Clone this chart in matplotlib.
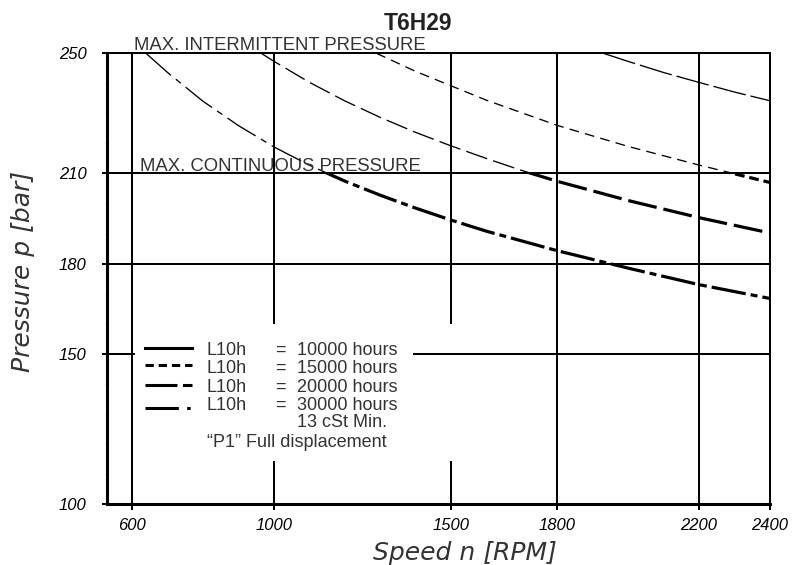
import numpy as np
import matplotlib
matplotlib.use('Agg')
from matplotlib import pyplot as plt
from matplotlib.patches import Rectangle

plt.rcParams['font.family'] = ['Liberation Sans', 'DejaVu Sans']
plt.rcParams['lines.scale_dashes'] = False

# axis setup
speed_ticks = [600, 1000, 1500, 1800, 2200, 2400]
pressure_ticks = [100, 150, 180, 210, 250]
p_continuous = 210
p_intermittent = 250

# life curves (speed rpm, pressure bar)
speed_10k = [1930, 2000, 2100, 2200, 2300, 2400]
p_10k = [250, 247.3, 243.6, 240.3, 237.1, 234.2]

speed_15k = [1290, 1400, 1500, 1600, 1800, 2000, 2200, 2400]
p_15k = [250, 244.0, 239.2, 234.4, 226.0, 219.0, 212.8, 207.0]

speed_20k = [965, 1000, 1100, 1200, 1300, 1400, 1500, 1600, 1700, 1800, 2000, 2200, 2400]
p_20k = [250, 247.4, 240.4, 234.2, 228.7, 223.7, 219.2, 215.0, 211.0, 207.4, 201.0, 195.3, 190.2]

speed_30k = [640, 700, 800, 900, 1000, 1100, 1200, 1300, 1400, 1500, 1600, 1800, 2000, 2200, 2400]
p_30k = [250, 243.7, 234.1, 226.0, 218.9, 212.8, 207.5, 202.8, 198.5, 194.5, 190.8, 184.3, 178.5, 173.0, 168.4]

life_names = ['10000 hours', '15000 hours', '20000 hours', '30000 hours']

# dash patterns in points: (thin above 210, thick below 210, legend sample)
styles = [
    ((0, (24, 3.6)), '-', '-'),
    ((0, (7, 4.5)), (0, (7, 3.5)), (0, (6, 3.5))),
    ((0, (16, 4.5)), (0, (21, 5)), (0, (23, 4))),
    ((0, (24, 4.5, 4.5, 4.5)), (0, (25, 3.6, 5, 3.6)), (0, (24, 6, 2.5, 6))),
]
curves = [(speed_10k, p_10k), (speed_15k, p_15k), (speed_20k, p_20k), (speed_30k, p_30k)]

fig = plt.figure(figsize=(7.97, 5.65), dpi=100)
ax = fig.add_axes([0.13425, 0.10796, 0.83187, 0.79770])
ax.set_xlim(530, 2400)
ax.set_ylim(100, 250)

# grid (drawn by hand so the legend area stays open)
gw = 1.44
ax.vlines([600, 1800, 2200], 100, 250, color='k', lw=gw, zorder=1)
ax.vlines([1000, 1500], 100, 114.4, color='k', lw=gw, zorder=1)
ax.vlines([1000, 1500], 160, 250, color='k', lw=gw, zorder=1)
ax.hlines([180, p_continuous], 530, 2400, color='k', lw=gw, zorder=1)
ax.hlines(150, 530, 609, color='k', lw=gw, zorder=1)
ax.hlines(150, 1393, 2400, color='k', lw=gw, zorder=1)

# curves: thin in intermittent zone, thick in continuous zone
for (sp, pr), (thin, thick, _) in zip(curves, styles):
    l1, = ax.plot(sp, pr, color='k', lw=0.95, ls=thin, zorder=2)
    l1.set_clip_path(Rectangle((530, p_continuous), 1870, 40, transform=ax.transData))
    l2, = ax.plot(sp, pr, color='k', lw=2.3, ls=thick, zorder=2)
    l2.set_clip_path(Rectangle((530, 100), 1870, p_continuous - 100, transform=ax.transData))

# spines
for s in ['left', 'bottom']:
    ax.spines[s].set_linewidth(2.2)
for s in ['top', 'right']:
    ax.spines[s].set_linewidth(gw)

ax.set_xticks(speed_ticks)
ax.set_xticklabels([str(v) for v in speed_ticks])
ax.set_yticks(pressure_ticks)
ax.set_yticklabels([str(v) for v in pressure_ticks])
ax.set_yticks(np.arange(110, 250, 10), minor=True)
ax.tick_params(axis='x', direction='out', length=4.3, width=gw, pad=5.5, labelsize=12)
ax.tick_params(axis='y', direction='out', length=3.6, width=gw, pad=11, labelsize=12)
ax.tick_params(axis='y', which='minor', direction='out', length=1.5, width=0.6, color='#bbbbbb')
for lab in ax.get_xticklabels() + ax.get_yticklabels():
    lab.set_fontstyle('italic')

txt = '#333333'
ax.text(606, 251.1, 'MAX. INTERMITTENT PRESSURE', fontsize=13.3, color=txt, va='baseline', zorder=3)
ax.text(623, 210.8, 'MAX. CONTINUOUS PRESSURE', fontsize=13.3, color=txt, va='baseline', zorder=3)

fig.text(0.5245, 0.947, 'T6H29', fontsize=16.5, fontweight='bold', ha='center', va='baseline', color='#222222')
fig.text(0.583, 0.009, 'Speed n [RPM]', fontsize=18, fontstyle='italic', ha='center', va='baseline',
         color=txt, family=['DejaVu Sans'])
fig.text(0.029, 0.52, 'Pressure p [bar]', fontsize=18, fontstyle='italic', rotation=90,
         ha='center', va='center', color=txt, family=['DejaVu Sans'])

# legend
line_y = [0.3468, 0.3084, 0.2640, 0.2130]
text_y = [0.3306, 0.2913, 0.2491, 0.2086]
for i, name in enumerate(life_names):
    ax.plot([0.0573, 0.1282], [line_y[i], line_y[i]], transform=ax.transAxes, color='k',
            lw=2.2, ls=styles[i][2], clip_on=False, zorder=3)
    ax.text(0.1508, text_y[i], 'L10h', transform=ax.transAxes, fontsize=13, color=txt, va='baseline')
    ax.text(0.2534, text_y[i], '=', transform=ax.transAxes, fontsize=13, color=txt, va='baseline')
    ax.text(0.2866, text_y[i], name, transform=ax.transAxes, fontsize=13, color=txt, va='baseline')
ax.text(0.2866, 0.1708, '13 cSt Min.', transform=ax.transAxes, fontsize=13, color=txt, va='baseline')
ax.text(0.1508, 0.1265, '\u201cP1\u201d Full displacement', transform=ax.transAxes, fontsize=13,
        color=txt, va='baseline')

fig.savefig('out.png', dpi=100)
